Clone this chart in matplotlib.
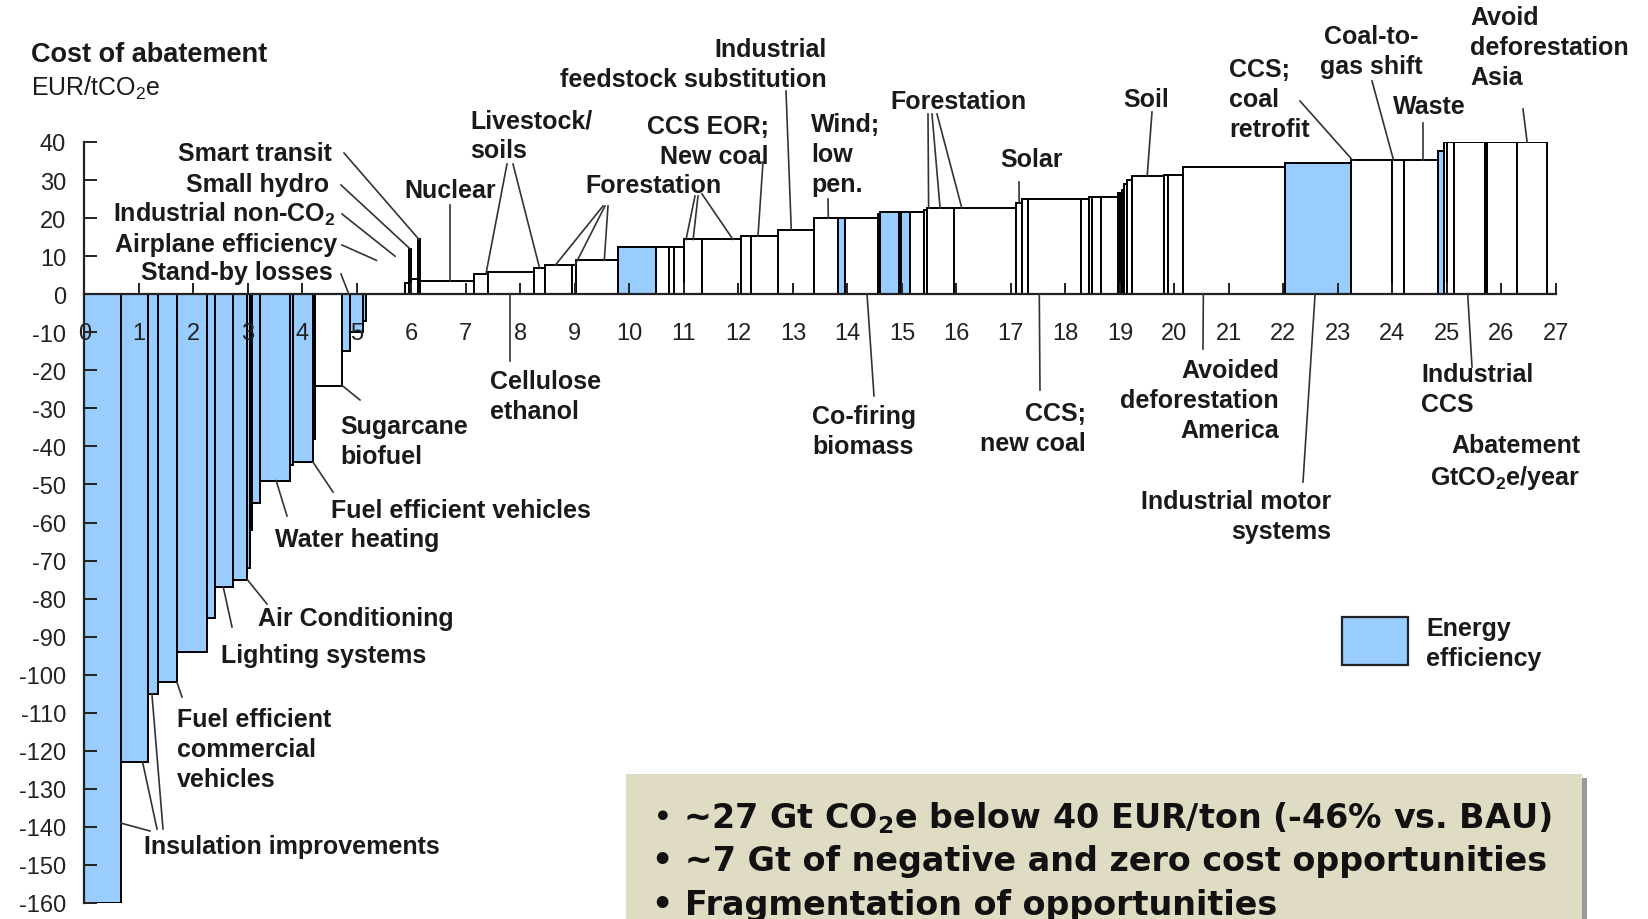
import matplotlib
matplotlib.use("Agg")
import matplotlib.pyplot as plt
import numpy as np
from matplotlib.patches import Rectangle

plt.rcParams['font.family'] = ['Liberation Sans', 'DejaVu Sans']
plt.rcParams['mathtext.default'] = 'regular'
plt.rcParams['axes.unicode_minus'] = False

W, H = 1648, 920
BLUE = '#99CCFF'

# abatement (GtCO2e/year) per lever, cost (EUR/tCO2e), energy-efficiency flag
widths = [0.67, 0.50, 0.18, 0.35, 0.56, 0.14, 0.32, 0.27, 0.05, 0.04,
          0.14, 0.55, 0.05, 0.37, 0.04, 0.50, 0.15, 0.23, 0.05, 0.72,
          0.08, 0.04, 0.13, 0.03, 0.99, 0.25, 0.85, 0.20, 0.49, 0.08,
          0.78, 0.68, 0.24, 0.10, 0.18, 0.33, 0.72, 0.18, 0.49, 0.67,
          0.43, 0.14, 0.61, 0.03, 0.35, 0.03, 0.17, 0.26, 0.05, 0.49,
          1.14, 0.11, 0.11, 0.98, 0.15, 0.04, 0.18, 0.30, 0.04, 0.04,
          0.04, 0.05, 0.09, 0.59, 0.08, 0.26, 1.88, 1.20, 0.77, 0.21,
          0.63, 0.10, 0.06, 0.13, 0.57, 0.04, 0.55, 0.54]
costs = [-160, -123, -105, -102, -94, -85, -77, -75, -72, -62,
         -55, -49, -45, -44, -38, -24, -15, -10, -7, 0,
         3, 12, 4, 14.4, 3.5, 5.4, 5.9, 7.0, 7.6, 7.6,
         8.9, 12.4, 12.4, 12.4, 12.4, 14.4, 14.4, 15.4, 15.4, 17.0,
         20.0, 20.0, 20.0, 21.2, 21.6, 21.5, 21.5, 21.5, 22.0, 22.6,
         22.6, 24.0, 25.1, 25.1, 25.1, 25.5, 25.6, 25.6, 26.7, 26.7,
         27.5, 29.0, 30.0, 31.1, 31.4, 31.4, 33.5, 34.6, 35.2, 35.2,
         35.2, 37.6, 40, 40, 40, 40, 40, 40]
efficiency = [1, 1, 1, 1, 1, 1, 1, 1, 1, 1,
              1, 1, 1, 1, 0, 0, 1, 1, 1, 0,
              0, 0, 0, 0, 0, 0, 0, 0, 0, 0,
              0, 1, 0, 0, 0, 0, 0, 0, 0, 0,
              0, 1, 0, 0, 1, 0, 1, 0, 0, 0,
              0, 0, 0, 0, 0, 0, 0, 0, 0, 0,
              0, 0, 0, 0, 0, 0, 0, 1, 0, 0,
              0, 1, 0, 0, 0, 0, 0, 0]

x_ticks = list(range(0, 28))
y_ticks = list(range(-160, 41, 10))

# labels: text, x, y (reference pixels), alignment
labels = [
    ("Smart transit", 332, 154, 'right'),
    ("Small hydro", 329, 185, 'right'),
    ("Industrial non-CO$_2$", 335, 214, 'right'),
    ("Airplane efficiency", 337, 245, 'right'),
    ("Stand-by losses", 333, 273, 'right'),
    ("Nuclear", 450, 191, 'center'),
    ("Livestock/\nsoils", 470, 136, 'left'),
    ("Forestation", 653, 186, 'center'),
    ("Cellulose\nethanol", 490, 397, 'left'),
    ("Industrial\nfeedstock substitution", 827, 65, 'right'),
    ("CCS EOR;\nNew coal", 769, 142, 'right'),
    ("Wind;\nlow\npen.", 811, 155, 'left'),
    ("Co-firing\nbiomass", 812, 432, 'left'),
    ("Forestation", 958, 102, 'center'),
    ("Solar", 1032, 160, 'center'),
    ("CCS;\nnew coal", 1086, 429, 'right'),
    ("Soil", 1146, 100, 'center'),
    ("Avoided\ndeforestation\nAmerica", 1279, 401, 'right'),
    ("CCS;\ncoal\nretrofit", 1229, 100, 'left'),
    ("Coal-to-\ngas shift", 1371, 52, 'center'),
    ("Waste", 1429, 107, 'center'),
    ("Avoid\ndeforestation\nAsia", 1470, 48, 'left'),
    ("Industrial\nCCS", 1421, 390, 'left'),
    ("Abatement\nGtCO$_2$e/year", 1580, 463, 'right'),
    ("Industrial motor\nsystems", 1331, 517, 'right'),
    ("Sugarcane\nbiofuel", 340, 442, 'left'),
    ("Fuel efficient vehicles", 331, 511, 'left'),
    ("Water heating", 275, 540, 'left'),
    ("Air Conditioning", 258, 619, 'left'),
    ("Lighting systems", 221, 656, 'left'),
    ("Fuel efficient\ncommercial\nvehicles", 177, 750, 'left'),
    ("Insulation improvements", 144, 847, 'left'),
    ("Energy\nefficiency", 1426, 644, 'left'),
]

# leader lines: label-side point (reference pixels) -> point on the curve (data)
leaders = [
    ((344, 154), (6.14, 14.4)), ((341, 186), (5.97, 12.0)),
    ((342, 215), (5.70, 10.0)), ((342, 246), (5.36, 8.9)),
    ((341, 275), (4.84, 0.5)), ((450, 206), (6.71, 3.5)),
    ((507, 165), (7.37, 5.4)), ((513, 165), (8.35, 7.0)),
    ((603, 207), (8.64, 7.6)), ((605, 207), (9.00, 7.6)),
    ((608, 207), (9.54, 8.9)), ((695, 197), (11.04, 14.4)),
    ((698, 197), (11.17, 14.4)), ((702, 195), (11.90, 14.4)),
    ((510, 362), (7.81, 0)), ((786, 92), (12.97, 17.0)),
    ((763, 163), (12.36, 15.4)), ((828, 200), (13.65, 20.0)),
    ((874, 397), (14.36, 0)), ((928, 115), (15.49, 22.6)),
    ((932, 115), (15.70, 22.6)), ((937, 115), (16.10, 22.6)),
    ((1019, 183), (17.15, 24.0)), ((1040, 391), (17.52, 0)),
    ((1152, 113), (19.50, 31.1)), ((1203, 350), (20.53, 0)),
    ((1300, 102), (23.27, 35.2)), ((1372, 82), (24.02, 35.2)),
    ((1423, 124), (24.56, 35.2)), ((1523, 110), (26.47, 40)),
    ((1472, 368), (25.38, 0)), ((1303, 483), (22.58, 0)),
    ((360, 401), (4.73, -24)), ((333, 493), (4.19, -44)),
    ((287, 517), (3.52, -49)), ((267, 605), (2.99, -75)),
    ((232, 628), (2.55, -77)), ((182, 698), (1.70, -102)),
    ((150, 832), (0.67, -139)), ((157, 830), (1.07, -123)),
    ((163, 830), (1.24, -105)),
]

bullets = ["\u2022 ~27 Gt CO$_2$e below 40 EUR/ton (-46% vs. BAU)",
           "\u2022 ~7 Gt of negative and zero cost opportunities",
           "\u2022 Fragmentation of opportunities"]


def fx(x):
    return x / W


def fy(y):
    return 1 - y / H


fig = plt.figure(figsize=(W / 100, H / 100), dpi=100)
ax = fig.add_axes([fx(84.3), fy(904), (1556 - 84.3) / W, (904 - 143) / H])
ax.set_xlim(0, 27)
ax.set_ylim(-160, 40)
ax.patch.set_visible(False)
ax.set_axisbelow(False)

lefts = np.concatenate([[0], np.cumsum(widths)[:-1]])
colors = [BLUE if e else 'white' for e in efficiency]
ax.bar(lefts, costs, width=widths, align='edge', color=colors,
       edgecolor='black', linewidth=1.4, zorder=2)

for s in ['top', 'right']:
    ax.spines[s].set_visible(False)
ax.spines['bottom'].set_position(('data', 0))
ax.spines['bottom'].set_bounds(0, 27)
ax.spines['left'].set_bounds(-160, 40)
for s in ['bottom', 'left']:
    ax.spines[s].set_linewidth(1.6)
    ax.spines[s].set_color('#222222')
    ax.spines[s].set_zorder(3)
ax.set_xticks(x_ticks)
ax.set_yticks(y_ticks)
ax.tick_params(axis='x', direction='in', length=8, width=1.4, pad=20,
               labelsize=17, colors='#222222')
ax.tick_params(axis='y', direction='in', length=9, width=1.4, pad=13,
               labelsize=17, colors='#222222')

inv = ax.transData.inverted()
for (sx, sy), (ex, ey) in leaders:
    dx, dy = inv.transform((sx, H - sy))
    ax.plot([dx, ex], [dy, ey], color='#333333', lw=1.2, clip_on=False,
            zorder=4)

for text, x, y, ha in labels:
    fig.text(fx(x), fy(y), text, ha=ha, va='center', fontsize=18,
             fontweight='bold', color='#1a1a1a', linespacing=1.3,
             multialignment=ha if ha != 'center' else 'center')

fig.text(fx(31), fy(55), "Cost of abatement", ha='left', va='center',
         fontsize=19.5, fontweight='bold', color='#1a1a1a')
fig.text(fx(31), fy(88), "EUR/tCO$_2$e", ha='left', va='center',
         fontsize=18, color='#1a1a1a')

# legend swatch
fig.patches.append(Rectangle((fx(1342), fy(666)), (1408 - 1342) / W,
                             (666 - 618) / H, transform=fig.transFigure,
                             facecolor=BLUE, edgecolor='#222222', lw=1.6))

# summary box with shadow
fig.patches.append(Rectangle((fx(630), fy(925)), (1587 - 630) / W,
                             (925 - 779) / H, transform=fig.transFigure,
                             facecolor='#9a9a9a', edgecolor='none'))
fig.patches.append(Rectangle((fx(626), fy(925)), (1582 - 626) / W,
                             (925 - 775) / H, transform=fig.transFigure,
                             facecolor='#E0DBC3', edgecolor='none'))
for i, line in enumerate(bullets):
    fig.text(fx(652), fy(818 + 44 * i), line, ha='left', va='center',
             fontsize=24, fontweight='bold', family='DejaVu Sans',
             color='#111111')

fig.savefig('out.png', dpi=100)
